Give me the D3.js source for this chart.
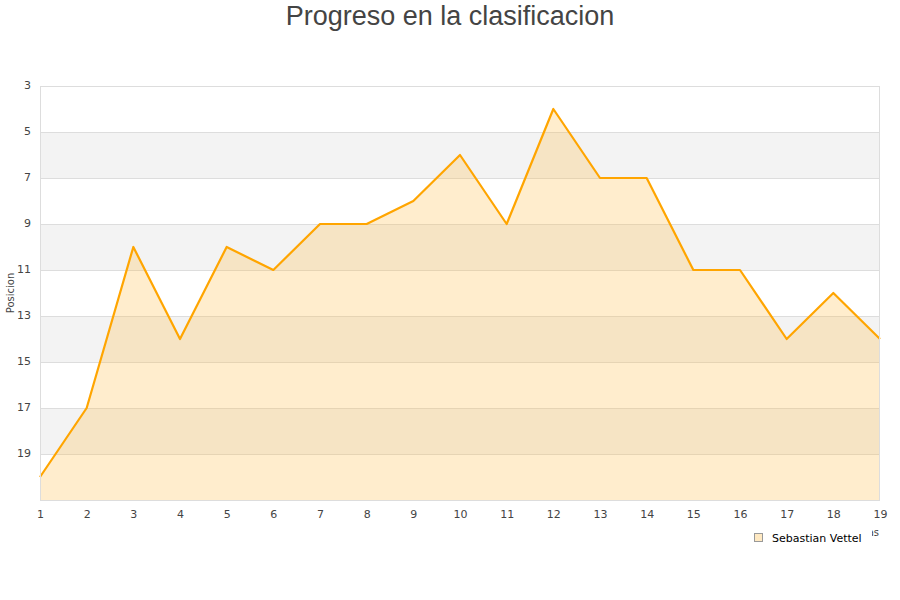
<!DOCTYPE html>
<html><head><meta charset="utf-8">
<script src="https://cdn.jsdelivr.net/npm/d3@7"></script>
<style>body{margin:0;background:#fff;} svg{display:block;}</style>
</head><body>
<script>
const races = [1,2,3,4,5,6,7,8,9,10,11,12,13,14,15,16,17,18,19];
const positions = [20,17,10,14,10,11,9,9,8,6,9,4,7,7,11,11,14,12,14];
const yTicks = [3,5,7,9,11,13,15,17,19];
const seriesName = "Sebastian Vettel";
const titleText = "Progreso en la clasificacion";
const yTitle = "Posicion";
const xTitle = "Carreras";

const W=900,H=600;
const svg=d3.select("body").append("svg").attr("width",W).attr("height",H);
const L=40,R=880,T=86,B=500;
const x=d3.scaleLinear().domain([1,19]).range([L,R]);
const y=d3.scaleLinear().domain([3,21]).range([T,B]);

// bands
const bands=[[5,7],[9,11],[13,15],[17,19]];
svg.selectAll("rect.band").data(bands).enter().append("rect")
 .attr("x",L).attr("width",R-L).attr("y",d=>y(d[0])).attr("height",d=>y(d[1])-y(d[0]))
 .attr("fill","#f3f3f3");
// grid
svg.selectAll("line.grid").data(yTicks).enter().append("line")
 .attr("x1",L).attr("x2",R).attr("y1",d=>y(d)+0.5).attr("y2",d=>y(d)+0.5)
 .attr("stroke","#dddddd").attr("stroke-width",1);

// area
const area=d3.area().x((d,i)=>x(races[i])).y0(y(21)).y1(d=>y(d));
svg.append("path").datum(positions).attr("d",area)
 .attr("fill","#ffc04d").attr("fill-opacity",0.28);
const line=d3.line().x((d,i)=>x(races[i])).y(d=>y(d));
svg.append("path").datum(positions).attr("d",line)
 .attr("fill","none").attr("stroke","#ffa500").attr("stroke-width",2.2).attr("stroke-linejoin","round");

// border
svg.append("rect").attr("x",L+0.5).attr("y",T+0.5).attr("width",R-L-1).attr("height",B-T)
 .attr("fill","none").attr("stroke","#dddddd");

// axes
const yAxis=d3.axisLeft(y).tickValues(yTicks).tickSize(0).tickPadding(9);
const gy=svg.append("g").attr("transform",`translate(${L},0)`).call(yAxis);
gy.select(".domain").remove();
gy.selectAll("text").attr("font-family","DejaVu Sans").attr("font-size",11).attr("fill","#444").attr("dy","0.2em");

const xAxis=d3.axisBottom(x).tickValues(races).tickSize(0).tickPadding(10).tickFormat(d3.format("d"));
const gx=svg.append("g").attr("transform",`translate(0,${B})`).call(xAxis);
gx.select(".domain").remove();
gx.selectAll("text").attr("font-family","DejaVu Sans").attr("font-size",11).attr("fill","#444");

// titles
svg.append("text").attr("x",450).attr("y",25).attr("text-anchor","middle")
 .attr("font-family","Liberation Sans, Arial").attr("font-size",27).attr("fill","#444").text(titleText);
svg.append("text").attr("transform","translate(14,293) rotate(-90)").attr("text-anchor","middle")
 .attr("font-family","DejaVu Sans").attr("font-size",10).attr("fill","#444").text(yTitle);
svg.append("text").attr("x",879).attr("y",536).attr("text-anchor","end")
 .attr("font-family","DejaVu Sans").attr("font-size",10).attr("fill","#444").text(xTitle);

// legend
svg.append("rect").attr("x",745).attr("y",528).attr("width",127).attr("height",18).attr("fill","#fff");
svg.append("rect").attr("x",754.5).attr("y",533.5).attr("width",8).attr("height",8)
 .attr("fill","#ffe9c2").attr("stroke","#999");
svg.append("text").attr("x",772).attr("y",542).attr("font-family","DejaVu Sans").attr("font-size",11)
 .attr("fill","#000").text(seriesName);
</script>
</body></html>
